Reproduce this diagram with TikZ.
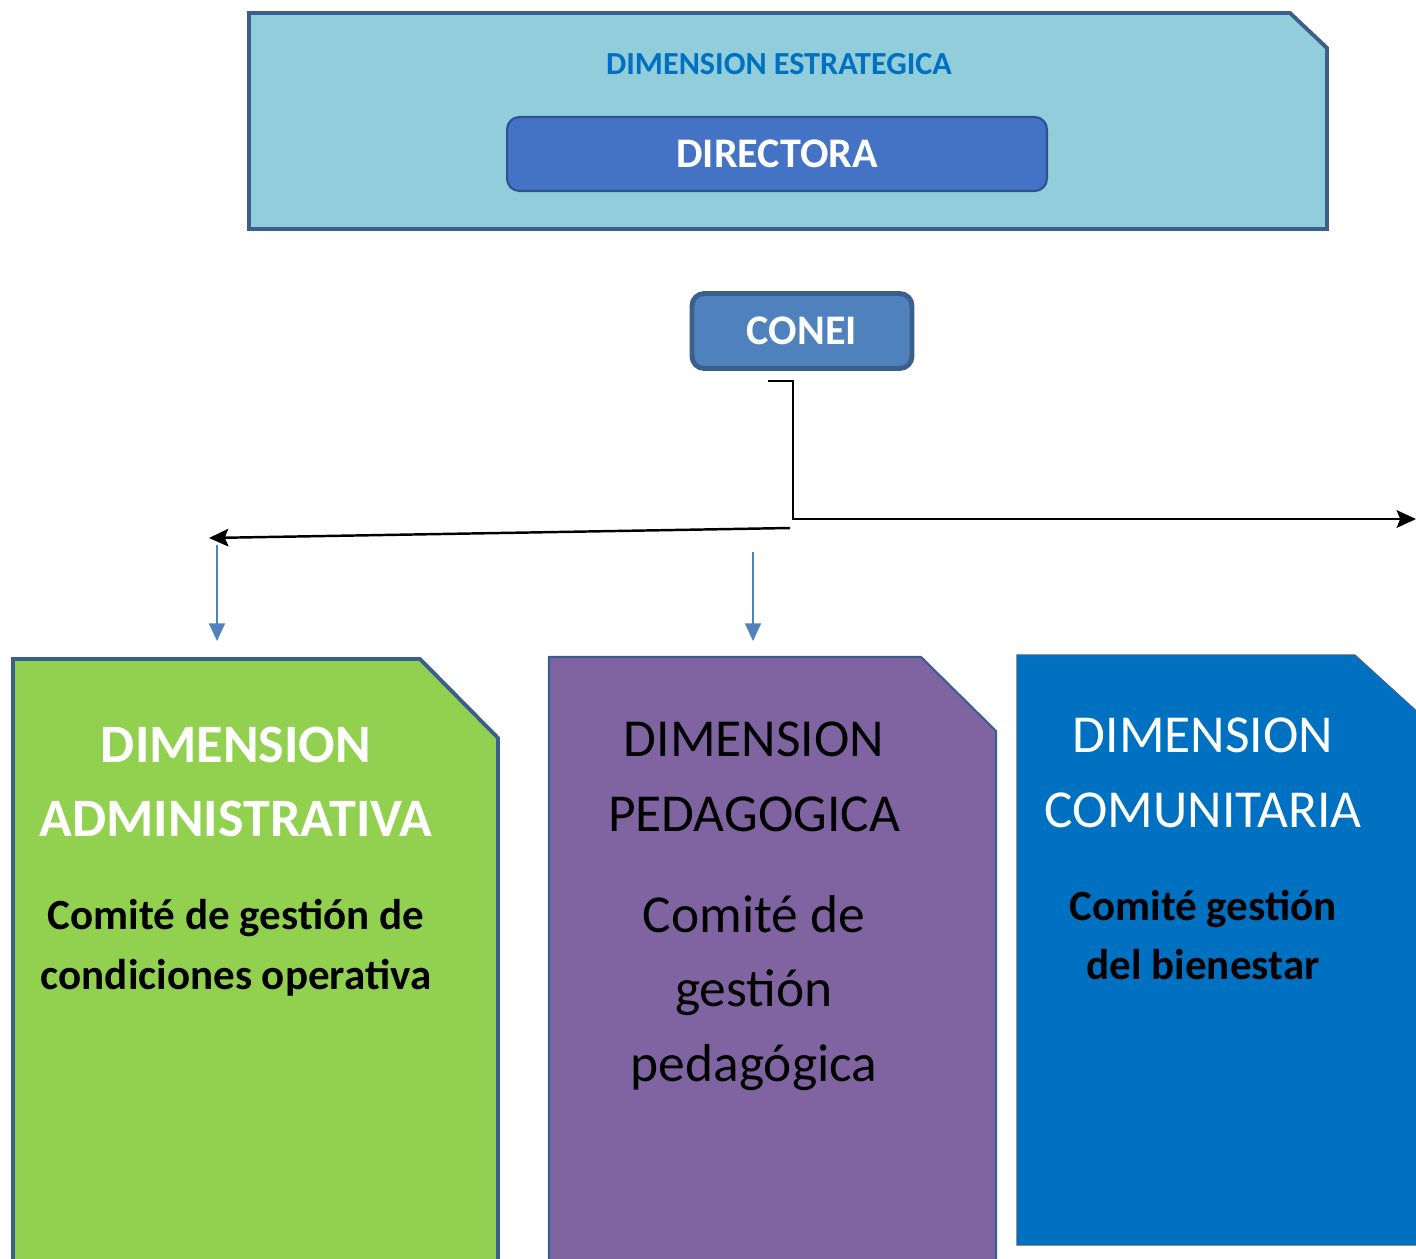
\documentclass[tikz,border=0pt]{standalone}
\usepackage{fontspec}
\setmainfont{Carlito}
\usetikzlibrary{arrows.meta}

\definecolor{celeste}{HTML}{92CDDC}
\definecolor{borde}{HTML}{3B5F8D}
\definecolor{directora}{HTML}{4472C4}
\definecolor{bordedir}{HTML}{2F528F}
\definecolor{conei}{HTML}{4F81BD}
\definecolor{verde}{HTML}{92D050}
\definecolor{morado}{HTML}{8064A2}
\definecolor{azul}{HTML}{0070C0}

\tikzset{
    caja/.style={draw=borde,line width=2.2pt,line join=miter},
    boton/.style={rounded corners=7pt,text=white,font=\bfseries\fontsize{24}{28}\selectfont},
    flecha/.style={-{Stealth[length=11pt,width=10pt,inset=2pt]},line width=1.4pt,black},
    bajada/.style={-{Triangle[length=10pt,width=9pt]},line width=1.1pt,conei},
    titulo/.style={align=center,font=\fontsize{30.4}{42.5}\selectfont},
    titulob/.style={align=center,font=\bfseries\fontsize{30.8}{42.5}\selectfont},
    comite/.style={align=center,font=\bfseries\fontsize{24.5}{34}\selectfont}
}

\begin{document}
\begin{tikzpicture}[x=0.02cm,y=-0.02cm]
    \useasboundingbox (0,0) rectangle (1416,1258);

    \draw[caja,fill=celeste] (249,13) -- (1290,13) -- (1327,48) -- (1327,229) -- (249,229) -- cycle;
    \node (estr) at (779,64) [text=azul,font=\bfseries\fontsize{18.3}{22}\selectfont] {DIMENSION ESTRATEGICA};
    \node (dir) at (777,154) [boton,draw=bordedir,line width=1.2pt,fill=directora,minimum width=10.8cm,minimum height=1.48cm] {DIRECTORA};

    \node (conei) at (802,331) [boton,draw=borde,line width=2.8pt,fill=conei,minimum width=4.4cm,minimum height=1.5cm] {CONEI};

    \coordinate (c1) at (768,381);
    \coordinate (c2) at (793,519);
    \coordinate (der) at (1416,519);
    \coordinate (c3) at (790,528);
    \coordinate (izq) at (209,538);
    \draw[flecha] (c1) -| (c2) -- (der);
    \draw[flecha] (c3) -- (izq);

    \coordinate (b1) at (217,545);
    \coordinate (b1f) at (217,641);
    \coordinate (b2) at (753,552);
    \coordinate (b2f) at (753,641);
    \draw[bajada] (b1) -- (b1f);
    \draw[bajada] (b2) -- (b2f);

    \draw[caja,fill=verde] (13,659) -- (420,659) -- (498,738) -- (498,1275) -- (13,1275) -- cycle;
    \draw[caja,line width=1.2pt,fill=morado] (549,657) -- (921,657) -- (996,731) -- (996,1275) -- (549,1275) -- cycle;
    \draw[caja,line width=0.6pt,fill=azul] (1017,655) -- (1355,655) -- (1422,716) -- (1422,1245) -- (1017,1245) -- cycle;

    \node (admin) at (236,782) [titulob,text=white] {DIMENSION\\ADMINISTRATIVA};
    \node (cadmin) at (236,948) [comite] {Comité de gestión de\\condiciones operativa};

    \node (peda) at (754,777) [titulo] {DIMENSION\\PEDAGOGICA};
    \node (cpeda) at (754,993) [titulo] {Comité de\\gestión\\pedagógica};

    \node (comu) at (1203,773) [titulo,text=white] {DIMENSION\\COMUNITARIA};
    \node (ccomu) at (1203,935) [comite] {Comité gestión\\del bienestar};

\end{tikzpicture}
\end{document}
